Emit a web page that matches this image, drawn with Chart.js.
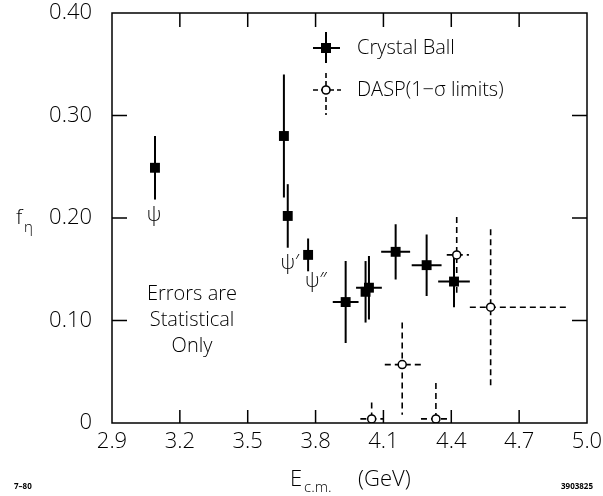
<!DOCTYPE html>
<html>
<head>
<meta charset="utf-8">
<script src="https://cdn.jsdelivr.net/npm/chart.js@4"></script>
<style>
  html, body { margin: 0; padding: 0; background: #fff; }
  canvas { display: block; }
</style>
</head>
<body>
<canvas id="feta" width="603" height="496"></canvas>
<script>
// Crystal Ball points
const cbE = [3.09, 3.66, 3.677, 3.767, 3.933, 4.021, 4.036, 4.154, 4.291, 4.412];
const cbF = [0.249, 0.280, 0.202, 0.164, 0.118, 0.128, 0.132, 0.167, 0.154, 0.138];
const cbErrF = [0.031, 0.060, 0.031, 0.016, 0.040, 0.030, 0.031, 0.027, 0.030, 0.025];
const cbErrE = [0, 0, 0, 0, 0.057, 0, 0.057, 0.064, 0.066, 0.070];

// DASP 1-sigma limits
const daspE = [4.048, 4.183, 4.332, 4.424, 4.574];
const daspF = [0.004, 0.057, 0.004, 0.164, 0.113];
const daspUp = [0.016, 0.041, 0.035, 0.037, 0.076];
const daspDown = [0.004, 0.049, 0.004, 0.037, 0.077];
const daspLo = [0.050, 0.077, 0.066, 0.044, 0.092];
const daspHi = [0.050, 0.085, 0.066, 0.054, 0.343];

const xTicks = [2.9, 3.2, 3.5, 3.8, 4.1, 4.4, 4.7, 5.0];
const xTickLabels = ['2.9', '3.2', '3.5', '3.8', '4.1', '4.4', '4.7', '5.0'];
const yTicks = [0, 0.1, 0.2, 0.3, 0.4];
const yTickLabels = ['0', '0.10', '0.20', '0.30', '0.40'];

const FONT = "'Open Sans', sans-serif";

function txt(ctx, s, x, y, size, align) {
    ctx.font = '300 ' + size + 'px ' + FONT;
    ctx.textAlign = align || 'left';
    ctx.textBaseline = 'middle';
    ctx.fillText(s, x, y);
}

const extras = {
    id: 'extras',
    beforeDatasetsDraw(chart) {
        const ctx = chart.ctx, xs = chart.scales.x, ys = chart.scales.y;
        ctx.save();
        ctx.strokeStyle = '#000';
        // crystal ball error bars, solid
        ctx.lineWidth = 2;
        ctx.setLineDash([]);
        for (let i = 0; i < cbE.length; i++) {
            const px = xs.getPixelForValue(cbE[i]), py = ys.getPixelForValue(cbF[i]);
            ctx.beginPath();
            ctx.moveTo(px, ys.getPixelForValue(cbF[i] + cbErrF[i]));
            ctx.lineTo(px, ys.getPixelForValue(cbF[i] - cbErrF[i]));
            if (cbErrE[i] > 0) {
                ctx.moveTo(xs.getPixelForValue(cbE[i] - cbErrE[i]), py);
                ctx.lineTo(xs.getPixelForValue(cbE[i] + cbErrE[i]), py);
            }
            ctx.stroke();
        }
        // DASP error bars, dashed
        ctx.lineWidth = 1.6;
        ctx.setLineDash([6, 4]);
        for (let i = 0; i < daspE.length; i++) {
            const px = xs.getPixelForValue(daspE[i]), py = ys.getPixelForValue(daspF[i]);
            ctx.beginPath();
            ctx.moveTo(px, ys.getPixelForValue(daspF[i] + daspUp[i]));
            ctx.lineTo(px, ys.getPixelForValue(daspF[i] - daspDown[i]));
            ctx.moveTo(xs.getPixelForValue(daspE[i] - daspLo[i]), py);
            ctx.lineTo(xs.getPixelForValue(daspE[i] + daspHi[i]), py);
            ctx.stroke();
        }
        ctx.restore();
    },
    afterDraw(chart) {
        const ctx = chart.ctx, xs = chart.scales.x, ys = chart.scales.y;
        const a = chart.chartArea;
        ctx.save();
        ctx.strokeStyle = '#000';
        ctx.fillStyle = '#000';
        ctx.lineWidth = 1.5;
        ctx.setLineDash([]);
        ctx.strokeRect(a.left, a.top, a.right - a.left, a.bottom - a.top);
        // inward ticks on all sides
        ctx.beginPath();
        xTicks.slice(1, -1).forEach(v => {
            const px = xs.getPixelForValue(v);
            ctx.moveTo(px, a.bottom); ctx.lineTo(px, a.bottom - 13);
            ctx.moveTo(px, a.top); ctx.lineTo(px, a.top + 14);
        });
        yTicks.slice(1, -1).forEach(v => {
            const py = ys.getPixelForValue(v);
            ctx.moveTo(a.left, py); ctx.lineTo(a.left + 15, py);
            ctx.moveTo(a.right, py); ctx.lineTo(a.right - 15, py);
        });
        ctx.stroke();

        // legend
        const lx = 326, ly1 = 48, ly2 = 90;
        ctx.lineWidth = 2;
        ctx.beginPath();
        ctx.moveTo(lx, ly1 - 16); ctx.lineTo(lx, ly1 + 15);
        ctx.moveTo(lx - 13, ly1); ctx.lineTo(lx + 14, ly1);
        ctx.stroke();
        ctx.fillRect(lx - 5, ly1 - 5, 10, 10);
        ctx.lineWidth = 1.6;
        ctx.setLineDash([5, 3]);
        ctx.beginPath();
        ctx.moveTo(lx, ly2 - 17); ctx.lineTo(lx, ly2 + 25);
        ctx.moveTo(lx - 13, ly2); ctx.lineTo(lx + 15, ly2);
        ctx.stroke();
        ctx.setLineDash([]);
        ctx.fillStyle = '#fff';
        ctx.beginPath(); ctx.arc(lx, ly2, 4, 0, Math.PI * 2); ctx.fill(); ctx.stroke();
        ctx.fillStyle = '#000';
        txt(ctx, 'Crystal Ball', 357, ly1, 20);
        txt(ctx, 'DASP(1\u2212\u03c3 limits)', 357, ly2, 20);

        // resonance labels
        txt(ctx, '\u03c8', 154, 215, 20, 'center');
        txt(ctx, '\u03c8\u2032', 290, 263, 20, 'center');
        txt(ctx, '\u03c8\u2033', 316, 281, 20, 'center');

        // note
        txt(ctx, 'Errors are', 192, 294, 20, 'center');
        txt(ctx, 'Statistical', 192, 320, 20, 'center');
        txt(ctx, 'Only', 192, 346, 20, 'center');

        // axis titles
        txt(ctx, 'f', 16, 218, 21);
        txt(ctx, '\u03b7', 24, 228, 15);
        txt(ctx, 'E', 290, 480, 22);
        txt(ctx, 'c.m.', 304, 488, 15);
        txt(ctx, '(GeV)', 358, 480, 22);

        ctx.font = 'bold 8px ' + FONT;
        ctx.textAlign = 'left';
        ctx.fillText('7\u201380', 14, 487);
        ctx.textAlign = 'right';
        ctx.fillText('3903825', 593, 487);
        ctx.restore();
    }
};

new Chart(document.getElementById('feta'), {
    type: 'scatter',
    data: {
        datasets: [{
            label: 'Crystal Ball',
            data: cbE.map((e, i) => ({ x: e, y: cbF[i] })),
            pointStyle: 'rect',
            pointRadius: 7,
            backgroundColor: '#000',
            borderColor: '#000',
            borderWidth: 0
        }, {
            label: 'DASP(1\u2212\u03c3 limits)',
            data: daspE.map((e, i) => ({ x: e, y: daspF[i] })),
            pointStyle: 'circle',
            pointRadius: 4,
            backgroundColor: '#fff',
            borderColor: '#000',
            borderWidth: 1.5
        }]
    },
    options: {
        responsive: false,
        animation: false,
        layout: { padding: { left: 0, right: 16, top: 13, bottom: 0 } },
        plugins: { legend: { display: false }, tooltip: { enabled: false } },
        scales: {
            x: {
                type: 'linear',
                min: 2.9,
                max: 5.0,
                afterBuildTicks: s => { s.ticks = xTicks.map(v => ({ value: v })); },
                afterFit: s => { s.height = 73; s.paddingLeft = 0; s.paddingRight = 0; },
                ticks: {
                    color: '#000',
                    padding: 6,
                    maxRotation: 0,
                    font: { family: FONT, size: 22, weight: '300' },
                    callback: (v) => xTickLabels[xTicks.indexOf(v)]
                },
                grid: { display: false, drawTicks: false },
                border: { display: false }
            },
            y: {
                type: 'linear',
                min: 0,
                max: 0.4,
                afterBuildTicks: s => { s.ticks = yTicks.map(v => ({ value: v })); },
                afterFit: s => { s.width = 112; s.paddingTop = 0; s.paddingBottom = 0; },
                ticks: {
                    color: '#000',
                    padding: 20,
                    font: { family: FONT, size: 22, weight: '300' },
                    callback: (v) => yTickLabels[yTicks.indexOf(v)]
                },
                grid: { display: false, drawTicks: false },
                border: { display: false }
            }
        }
    },
    plugins: [extras]
});
</script>
</body>
</html>
